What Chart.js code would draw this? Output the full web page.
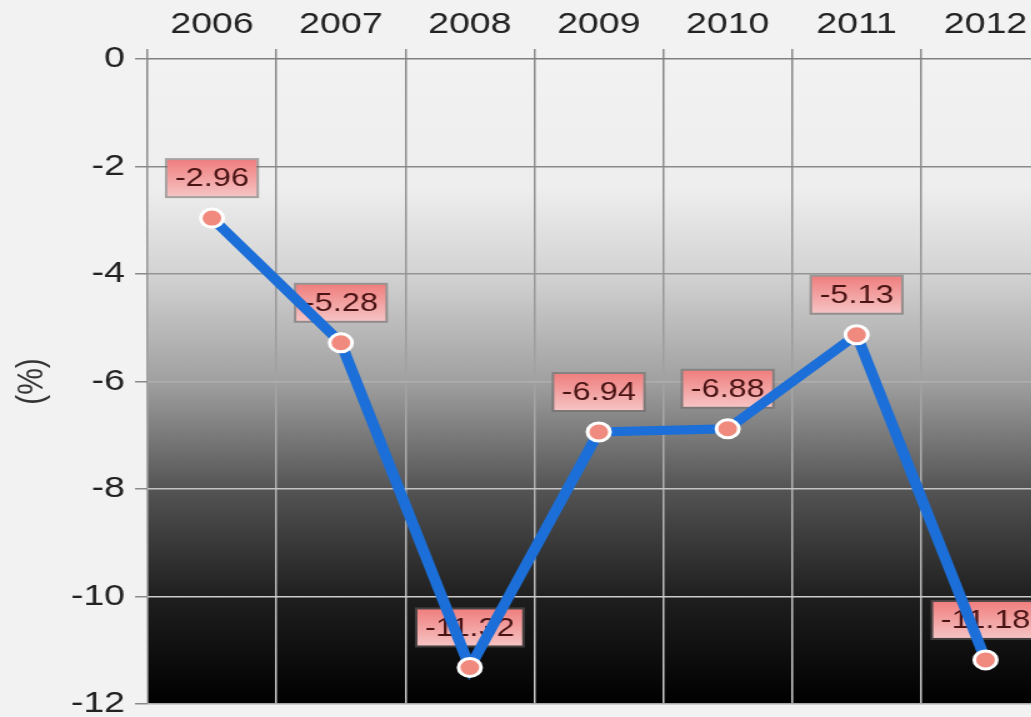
<!DOCTYPE html>
<html>
<head>
<meta charset="utf-8">
<script src="https://cdn.jsdelivr.net/npm/chart.js@4.4.0/dist/chart.umd.min.js"></script>
<style>
html, body { margin:0; padding:0; background:#f2f2f2; overflow:hidden; }
/* the source picture is stretched sideways, so draw narrow and widen it */
#wrap { width:852px; height:717px; transform:scaleX(1.25); transform-origin:0 0; }
</style>
</head>
<body>
<div id="wrap"><canvas id="deficit"></canvas></div>
<script>
var years = ['2006','2007','2008','2009','2010','2011','2012'];
var deficit = [-2.96, -5.28, -11.32, -6.94, -6.88, -5.13, -11.18];
var yMin = -12;
var yMax = 0;
var yStep = 2;

var font = "'Liberation Sans', Arial, sans-serif";

// light gray on top going to black at the bottom of the plot
var bgPlugin = {
    id: 'bg',
    beforeDraw: function(chart) {
        var ctx = chart.ctx, a = chart.chartArea;
        var g = ctx.createLinearGradient(0, a.top, 0, a.bottom);
        g.addColorStop(0, '#f2f2f2');
        g.addColorStop(0.2, '#eeeeee');
        g.addColorStop(0.333, '#d3d3d3');
        g.addColorStop(0.5, '#a0a0a0');
        g.addColorStop(0.606, '#707070');
        g.addColorStop(0.667, '#545454');
        g.addColorStop(0.834, '#1f1f1f');
        g.addColorStop(1, '#000000');
        ctx.save();
        ctx.fillStyle = g;
        ctx.fillRect(a.left, a.top, a.right - a.left, a.bottom - a.top);
        ctx.restore();
    }
};

// pink value boxes, drawn before the line so the line runs over them
var boxPlugin = {
    id: 'boxes',
    beforeDatasetsDraw: function(chart) {
        var ctx = chart.ctx;
        var pts = chart.getDatasetMeta(0).data;
        ctx.save();
        ctx.font = '26px ' + font;
        ctx.textAlign = 'center';
        ctx.textBaseline = 'middle';
        for (var i = 0; i < pts.length; i++) {
            var txt = deficit[i].toFixed(2);
            var w = ctx.measureText(txt).width + 12;
            var h = 36;
            var x = pts[i].x - w / 2;
            var y = pts[i].y - 58;
            ctx.fillStyle = 'rgba(110,100,100,0.55)';
            ctx.fillRect(x - 2, y - 2, w + 4, h + 4);
            var g = ctx.createLinearGradient(0, y, 0, y + h);
            g.addColorStop(0, '#f07f7f');
            g.addColorStop(1, '#f6c3c3');
            ctx.fillStyle = g;
            ctx.fillRect(x, y, w, h);
            ctx.fillStyle = '#4a1414';
            ctx.fillText(txt, pts[i].x, y + h / 2 + 1);
        }
        ctx.restore();
    }
};

function vGrid(c) {
    var a = c.chart.chartArea;
    if (!a) return '#888888';
    var g = c.chart.ctx.createLinearGradient(0, a.top, 0, a.bottom);
    g.addColorStop(0, '#868686');
    g.addColorStop(0.4, '#9a9a9a');
    g.addColorStop(1, '#cccccc');
    return g;
}

var hGridColors = {'0': '#808080', '-2': '#8a8a8a', '-4': '#959595', '-6': '#b0b0b0', '-8': '#c4c4c4', '-10': '#cccccc', '-12': '#aaaaaa'};

var ctx = document.getElementById('deficit').getContext('2d');

new Chart(ctx, {
    type: 'line',
    data: {
        labels: years,
        datasets: [{
            data: deficit,
            borderColor: '#1c6fd8',
            borderWidth: 9,
            tension: 0,
            pointRadius: 9,
            pointHoverRadius: 9,
            pointBackgroundColor: '#f08a7e',
            pointBorderColor: '#ffffff',
            pointBorderWidth: 3,
            clip: false
        }]
    },
    options: {
        responsive: true,
        maintainAspectRatio: false,
        animation: false,
        layout: { padding: { left: 0, top: 0, right: 3, bottom: 13 } },
        plugins: {
            legend: { display: false },
            tooltip: { enabled: false }
        },
        scales: {
            x: {
                position: 'top',
                offset: true,
                grid: { offset: true, color: vGrid, lineWidth: 1.5, tickLength: 10, tickColor: '#8a8a8a' },
                border: { display: false },
                ticks: { color: '#222222', font: { family: font, size: 30 }, padding: 6 },
                afterFit: function(s) { s.height = 59; s.paddingLeft = 0; s.paddingRight = 0; }
            },
            y: {
                min: yMin,
                max: yMax,
                grid: {
                    color: function(c) { return hGridColors[String(c.tick ? c.tick.value : 0)] || '#999999'; },
                    lineWidth: 1.5,
                    tickLength: 10,
                    tickColor: '#8a8a8a'
                },
                border: { display: false },
                ticks: { stepSize: yStep, color: '#222222', font: { family: font, size: 30 }, padding: 8 },
                title: { display: true, text: '(%)', color: '#333333', font: { family: font, size: 30 }, padding: { top: 8, bottom: 0 } },
                afterFit: function(s) { s.width = 118; s.paddingTop = 0; s.paddingBottom = 0; }
            }
        }
    },
    plugins: [bgPlugin, boxPlugin]
});
</script>
</body>
</html>
